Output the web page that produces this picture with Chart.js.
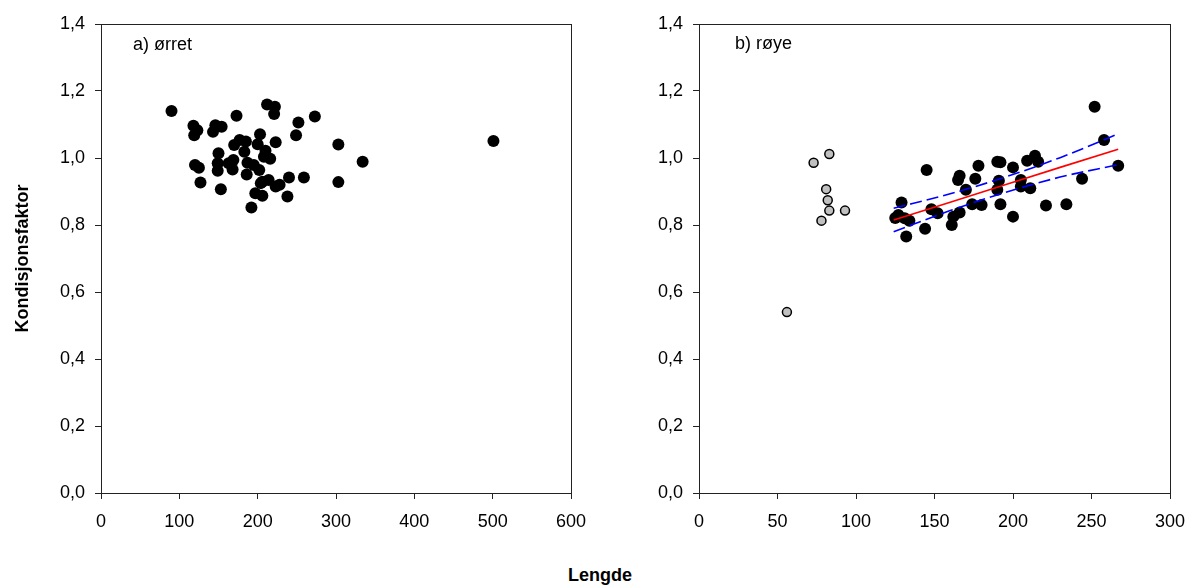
<!DOCTYPE html>
<html>
<head>
<meta charset="utf-8">
<script src="https://cdn.jsdelivr.net/npm/chart.js@4"></script>
<style>
  html, body { margin: 0; padding: 0; background: #fff; overflow: hidden; }
  body { width: 1191px; height: 588px; position: relative; font-family: Arial, "Liberation Sans", sans-serif; }
  .box { position: absolute; top: 0; }
  #xlabel { position: absolute; left: 550px; top: 564px; width: 100px; text-align: center; font-weight: bold; font-size: 18px; line-height: 22px; color: #000; }
</style>
</head>
<body>
<div class="box" style="left:0;width:600px;height:545px;"><canvas id="c1"></canvas></div>
<div class="box" style="left:600px;width:620px;height:545px;"><canvas id="c2"></canvas></div>
<div id="xlabel">Lengde</div>
<script>
// ---- Data ----
const yTickLabels = ['0,0','0,2','0,4','0,6','0,8','1,0','1,2','1,4'];

// a) ørret
const troutLength = [90,212,222,221,173,273,252,118,123,119,146,154,143,203,249,303,223,200,177,185,170,183,210,150,208,216,169,163,149,187,195,334,120,125,149,168,202,186,240,259,206,214,204,223,228,303,127,153,197,206,238,192,501];
const troutK      = [1.140,1.160,1.153,1.131,1.126,1.124,1.106,1.096,1.083,1.068,1.098,1.093,1.078,1.071,1.068,1.040,1.047,1.041,1.054,1.049,1.039,1.019,1.022,1.014,1.004,0.998,0.994,0.984,0.984,0.986,0.979,0.989,0.979,0.971,0.962,0.966,0.964,0.951,0.942,0.942,0.929,0.934,0.925,0.915,0.920,0.928,0.927,0.907,0.895,0.887,0.885,0.852,1.051];

// b) røye – black points
const charLength = [252,258,267,244,234,221,214,216,209,211,205,205,200,200,190,192,191,190,192,178,176,180,174,170,165,166,166,162,161,152,148,145,144,132,129,125,127,134,131];
const charK      = [1.153,1.054,0.977,0.938,0.862,0.858,1.007,0.989,0.992,0.910,0.934,0.915,0.972,0.825,0.989,0.987,0.932,0.905,0.862,0.977,0.938,0.860,0.862,0.905,0.934,0.947,0.837,0.825,0.800,0.835,0.847,0.964,0.789,0.766,0.867,0.821,0.830,0.813,0.820];

// b) røye – grey points
const smallLength = [83,73,81,82,83,93,78,56];
const smallK      = [1.012,0.986,0.907,0.874,0.843,0.843,0.813,0.540];

// regression and confidence band
const fitX     = [124,160,195,230,267];
const fitY     = [0.815,0.868,0.920,0.972,1.026];
const upperY   = [0.850,0.893,0.943,1.001,1.072];
const lowerY   = [0.780,0.843,0.897,0.943,0.980];

// ---- helpers ----
const pts = (xs, ys) => xs.map((x, i) => ({x: x, y: ys[i]}));
Chart.defaults.font.family = 'Arial, "Liberation Sans", sans-serif';
Chart.defaults.color = '#000';

const frame = {
  id: 'frame',
  afterDraw(chart) {
    const a = chart.chartArea, ctx = chart.ctx;
    ctx.save();
    ctx.strokeStyle = '#222';
    ctx.lineWidth = 1;
    ctx.strokeRect(Math.round(a.left) + 0.5, Math.round(a.top) + 0.5, Math.round(a.right - a.left), Math.round(a.bottom - a.top));
    const o = chart.options.plugins.panel;
    ctx.fillStyle = '#000';
    ctx.font = '18px Arial, "Liberation Sans", sans-serif';
    ctx.textBaseline = 'middle';
    ctx.fillText(o.text, a.left + o.dx, a.top + o.dy);
    ctx.restore();
  }
};

function makeOptions(xmax, xstep, yWidth, padRight, showTitle, panel) {
  return {
    responsive: true,
    maintainAspectRatio: false,
    animation: false,
    layout: { padding: { top: 24, right: padRight, left: 0, bottom: 0 } },
    plugins: { legend: { display: false }, tooltip: { enabled: false }, panel: panel },
    scales: {
      x: {
        type: 'linear', min: 0, max: xmax,
        ticks: { stepSize: xstep, padding: 12, font: { size: 18 }, color: '#000', maxRotation: 0 },
        grid: { drawOnChartArea: false, drawTicks: true, tickLength: 6, color: '#222' },
        border: { display: true, color: '#222', width: 1 },
        afterFit: s => { s.height = 52; }
      },
      y: {
        type: 'linear', min: 0, max: 1.4,
        ticks: { stepSize: 0.2, padding: 10, font: { size: 18 }, color: '#000',
                 callback: (v) => yTickLabels[Math.round(v / 0.2)] },
        grid: { drawOnChartArea: false, drawTicks: true, tickLength: 6, color: '#222' },
        border: { display: true, color: '#222', width: 1 },
        title: { display: showTitle, text: 'Kondisjonsfaktor', font: { size: 18, weight: 'bold' }, color: '#000', padding: { top: 12, bottom: 0 } },
        afterFit: s => { s.width = yWidth; }
      }
    }
  };
}

new Chart(document.getElementById('c1'), {
  type: 'scatter',
  data: {
    datasets: [{
      data: pts(troutLength, troutK),
      backgroundColor: '#000', borderColor: '#000', borderWidth: 0, pointRadius: 6
    }]
  },
  options: makeOptions(600, 100, 101, 29, true, { text: 'a) ørret', dx: 32, dy: 21 }),
  plugins: [frame]
});

new Chart(document.getElementById('c2'), {
  type: 'scatter',
  data: {
    datasets: [
      { type: 'line', data: pts(fitX, upperY), borderColor: '#0000ff', borderWidth: 1.6, borderDash: [12, 5], pointRadius: 0, tension: 0.4, cubicInterpolationMode: 'monotone', fill: false, order: 0 },
      { type: 'line', data: pts(fitX, lowerY), borderColor: '#0000ff', borderWidth: 1.6, borderDash: [12, 5], pointRadius: 0, tension: 0.4, cubicInterpolationMode: 'monotone', fill: false, order: 0 },
      { type: 'line', data: pts(fitX, fitY), borderColor: '#ff0000', borderWidth: 1.6, pointRadius: 0, fill: false, order: 0 },
      { data: pts(charLength, charK), backgroundColor: '#000', borderColor: '#000', borderWidth: 0, pointRadius: 6, order: 1 },
      { data: pts(smallLength, smallK), backgroundColor: '#c0c0c0', borderColor: '#000', borderWidth: 1.5, pointRadius: 4.5, order: 1 }
    ]
  },
  options: makeOptions(300, 50, 99, 50, false, { text: 'b) røye', dx: 36, dy: 20 }),
  plugins: [frame]
});
</script>
</body>
</html>
